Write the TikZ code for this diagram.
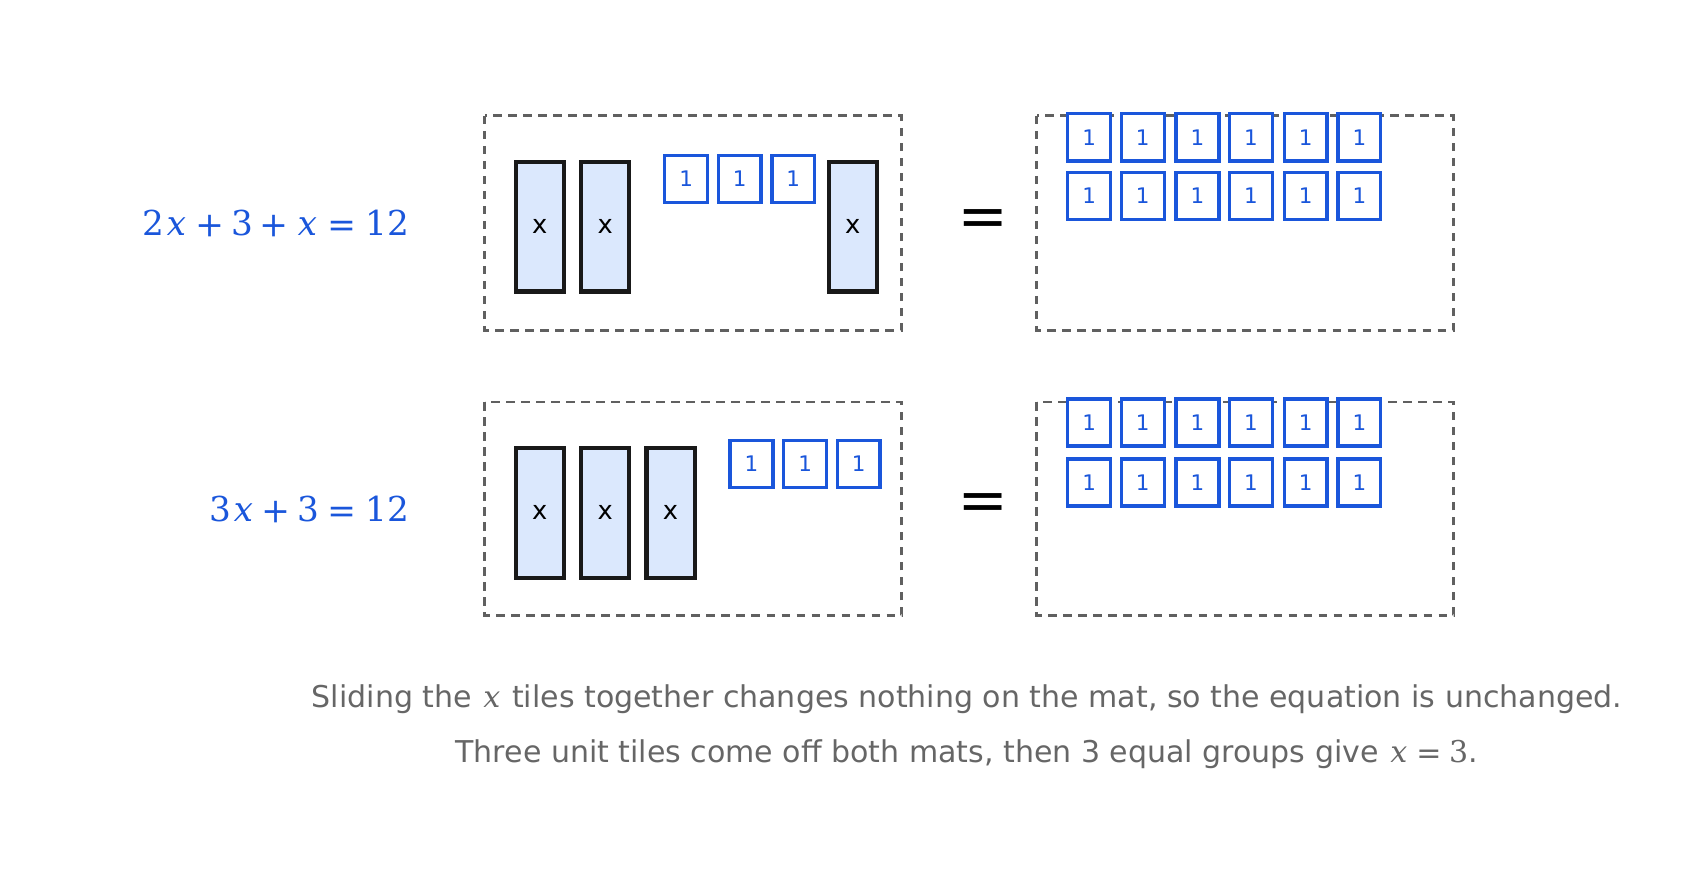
\documentclass[tikz,border=0pt]{standalone}
\usepackage{fontspec}
\usepackage{unicode-math}
\setmainfont{DejaVu Sans}
\setmathfont{DejaVu Math TeX Gyre}
\begin{document}
\definecolor{tb}{HTML}{1A56DB}
\definecolor{tf}{HTML}{DBE8FD}
\definecolor{mg}{HTML}{606060}
\definecolor{cg}{HTML}{666666}
\begin{tikzpicture}[x=0.5pt,y=-0.5pt,
  mat/.style={draw=mg,dashed,line width=1.3pt,dash pattern=on 4pt off 3pt},
  xt/.style={draw=black!90,fill=tf,line width=2pt},
  ut/.style={draw=tb,line width=1.6pt,fill=white},
  lab/.style={font=\fontsize{12}{14}\selectfont},
  ul/.style={font=\fontsize{10}{12}\selectfont,text=tb}]
\useasboundingbox (0,0) rectangle (1569,812);
\draw[mat] (452,108) rectangle (841,308);
\draw[mat] (967,108) rectangle (1356,308);
\draw[mat] (452,375) rectangle (841,574);
\draw[mat] (967,375) rectangle (1356,574);
% x tiles
\foreach \x/\n in {481/a,542/b,773/c}{
  \draw[xt] (\x,151) rectangle ++(45,121);
  \node[lab] (xt\n) at (\x+22.5,211.5) {x};}
\foreach \x/\n in {481/a,542/b,603/c}{
  \draw[xt] (\x,418) rectangle ++(45,121);
  \node[lab] (xb\n) at (\x+22.5,478.5) {x};}
% unit tiles left
\foreach \x/\n in {620/a,670/b,720/c}{
  \draw[ut] (\x,145) rectangle ++(40,44);
  \node[ul] (ut\n) at (\x+20,167) {1};}
\foreach \x/\n in {681/a,731/b,781/c}{
  \draw[ut] (\x,411) rectangle ++(40,44);
  \node[ul] (ub\n) at (\x+20,433) {1};}
% grids right
\foreach \x [count=\i] in {996,1046,1097,1147,1198,1248}{
  \foreach \y [count=\j] in {106,161,372,428}{
    \draw[ut] (\x,\y) rectangle ++(40,44);
    \node[ul] (g\i\j) at (\x+20,\y+22) {1};}}
\node[font=\fontsize{28}{30}\selectfont] (eq1) at (917,207) {$=$};
\node[font=\fontsize{28}{30}\selectfont] (eq2) at (917,472) {$=$};
\node[anchor=east,text=tb,font=\fontsize{16}{18}\selectfont,inner sep=0] (e1) at (382,208) {$2x+3+x=12$};
\node[anchor=east,text=tb,font=\fontsize{16}{18}\selectfont,inner sep=0] (e2) at (382,475) {$3x+3=12$};
\node[text=cg,font=\fontsize{14}{16}\selectfont,inner sep=0] (c1) at (902,652) {Sliding the $x$ tiles together changes nothing on the mat, so the equation is unchanged.};
\node[text=cg,font=\fontsize{14}{16}\selectfont,inner sep=0] (c2) at (902,704) {Three unit tiles come off both mats, then 3 equal groups give $x=3$.};
\end{tikzpicture}
\end{document}
